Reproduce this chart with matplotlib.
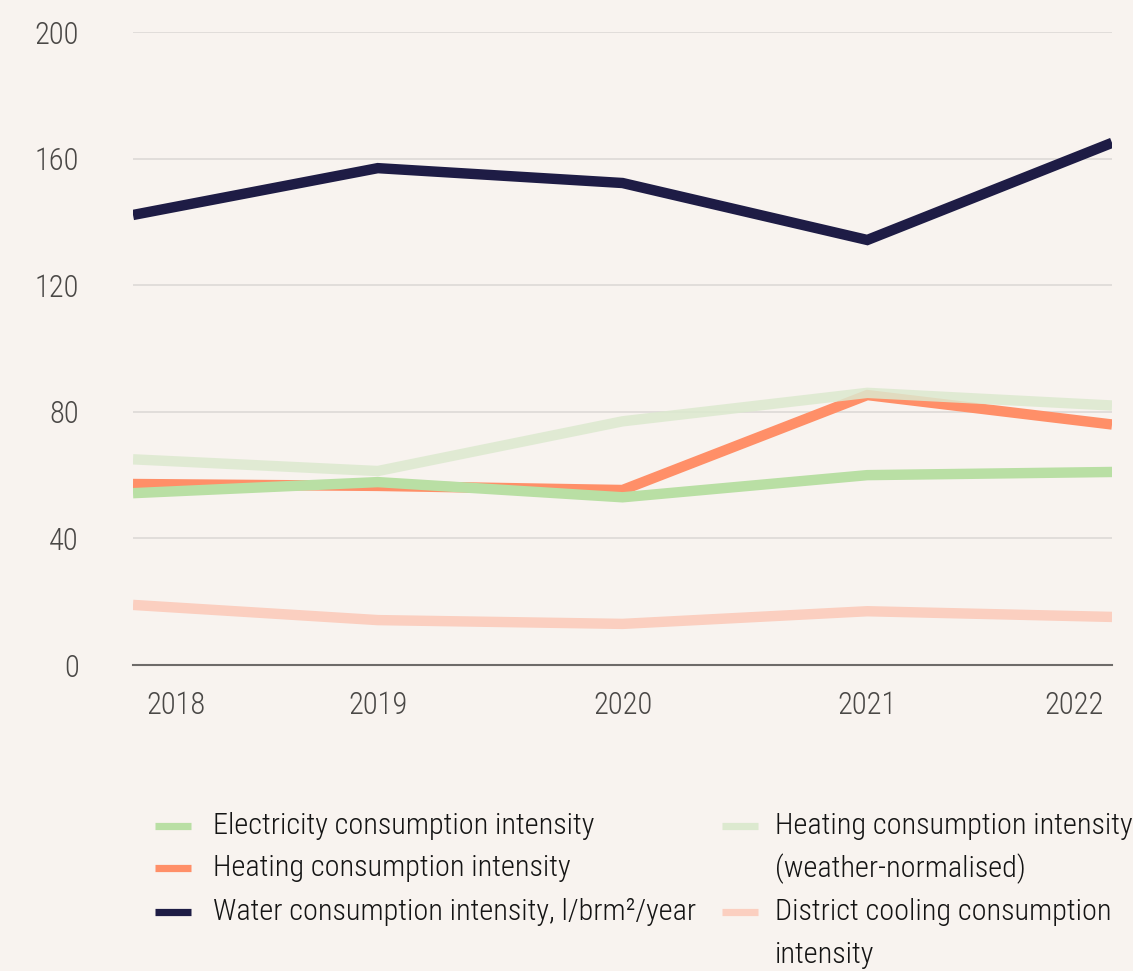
import matplotlib.pyplot as plt
import matplotlib.transforms as mtransforms
from matplotlib.lines import Line2D

plt.rcParams['font.family'] = ['Roboto Condensed', 'DejaVu Sans']
plt.rcParams['font.weight'] = 300

# Intensity figures per year
years = [2018, 2019, 2020, 2021, 2022]
electricity = [54.3, 57.8, 53.0, 60.0, 61.0]
heating = [57.2, 56.6, 55.3, 85.3, 76.0]
heating_normalised = [65.0, 61.3, 77.0, 86.0, 82.0]
water = [142.2, 157.0, 152.3, 134.3, 165.0]
district_cooling = [19.0, 14.2, 13.0, 17.0, 15.2]

bg = '#F8F3EF'
c_elec = '#B9DFA4'
c_heat = '#FF8F68'
c_heat_norm = '#DCE9CF'
c_water = '#1E1C45'
c_cool = '#FBCFC0'
txt = '#4A4846'

fig = plt.figure(figsize=(11.33, 9.71), dpi=100, facecolor=bg)
ax = fig.add_axes([0.1174, 0.3151, 0.8641, 0.6519], facecolor=bg)

lw = 7.5
style = dict(lw=lw, solid_capstyle='butt', solid_joinstyle='miter')
ax.plot(years, district_cooling, color=c_cool, **style)
ax.plot(years, heating, color=c_heat, **style)
ax.plot(years, electricity, color=c_elec, **style)
ax.plot(years, heating_normalised, color=c_heat_norm, alpha=0.85, **style)
ax.plot(years, water, color=c_water, **style)

ax.set_xlim(2018, 2022)
ax.set_ylim(0, 200)
ax.set_yticks([0, 40, 80, 120, 160, 200])
ax.set_xticks(years)
ax.set_xticklabels([str(y) for y in years])
ax.grid(axis='y', color='#DAD7D4', lw=1.1)
ax.set_axisbelow(True)
for s in ['top', 'right', 'left']:
    ax.spines[s].set_visible(False)
ax.spines['bottom'].set_color('#6E6B69')
ax.spines['bottom'].set_linewidth(1.5)
ax.tick_params(axis='both', length=0, labelsize=22, colors=txt)
ax.tick_params(axis='y', pad=39)
ax.tick_params(axis='x', pad=19)

# first and last year labels sit inside the plot edges
xlabels = ax.get_xticklabels()
xlabels[0].set_ha('left')
xlabels[0].set_transform(xlabels[0].get_transform() +
                         mtransforms.ScaledTranslation(13 / 100, 0, fig.dpi_scale_trans))
xlabels[-1].set_ha('right')
xlabels[-1].set_transform(xlabels[-1].get_transform() +
                          mtransforms.ScaledTranslation(-8 / 100, 0, fig.dpi_scale_trans))

# legend laid out in two columns, wrapped labels keep the row spacing
W, H = 1133, 971
entries = [
    (c_elec, ['Electricity consumption intensity'], 155, 213, 826),
    (c_heat, ['Heating consumption intensity'], 155, 213, 868),
    (c_water, ['Water consumption intensity, l/brm²/year'], 155, 213, 912),
    (c_heat_norm, ['Heating consumption intensity', '(weather-normalised)'], 722, 775, 826),
    (c_cool, ['District cooling consumption', 'intensity'], 722, 775, 912),
]
row_step = 43
for color, lines, hx, tx, y0 in entries:
    fig.add_artist(Line2D([hx / W, (hx + 36) / W], [1 - y0 / H, 1 - y0 / H],
                          color=color, lw=5.2, solid_capstyle='butt'))
    for i, line in enumerate(lines):
        fig.text(tx / W, 1 - (y0 + i * row_step) / H, line,
                 fontsize=21.8, color='#141414', va='center', ha='left')

fig.savefig('out.png', dpi=100, facecolor=bg)
